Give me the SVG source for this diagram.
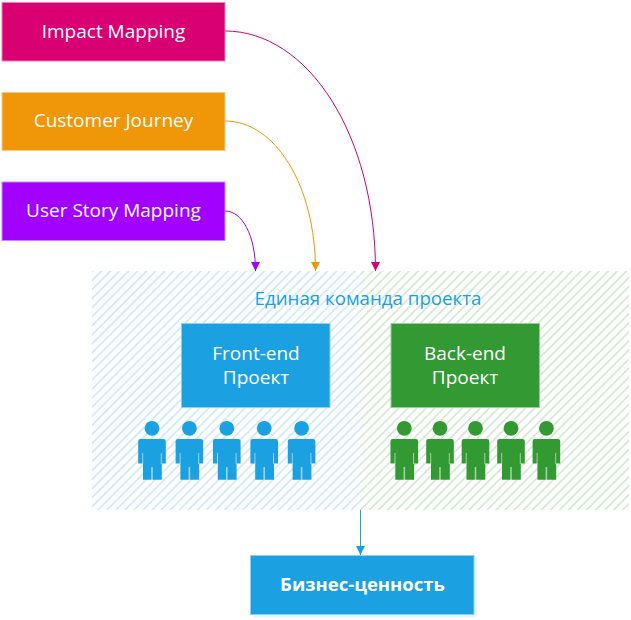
<svg xmlns="http://www.w3.org/2000/svg" width="631" height="620" viewBox="0 0 631 620">
  <style>
    text { font-family: "Open Sans", "Noto Sans", "Liberation Sans", sans-serif; text-anchor: middle; font-size: 19px; fill: #fff; }
    .box { stroke-width: 1; }
    .link { fill: none; stroke-width: 1; }
    .blue { fill: #1ba1e2; stroke: #8dd0f0; }
    .green { fill: #339933; stroke: #99cc99; }
    .magenta { fill: #d80073; stroke: #eb80b9; }
    .orange { fill: #f09609; stroke: #f7ca84; }
    .purple { fill: #a200ff; stroke: #d080ff; }
    .person-blue { fill: #1ba1e2; }
    .person-green { fill: #339933; }
    .gap { fill: none; stroke: #fff; stroke-opacity: 0.55; stroke-width: 1; }
    .gap-mid { fill: none; stroke: #fff; stroke-opacity: 0.55; stroke-width: 1.6; }
  </style>
  <defs>
    <pattern id="hatch-blue" width="6.4" height="6.4" patternUnits="userSpaceOnUse" patternTransform="rotate(45)">
      <line x1="1" y1="0" x2="1" y2="6.4" stroke="#1ba1e2" stroke-opacity="0.3" stroke-width="1.2"/>
    </pattern>
    <pattern id="hatch-green" width="6.4" height="6.4" patternUnits="userSpaceOnUse" patternTransform="rotate(45)">
      <line x1="1" y1="0" x2="1" y2="6.4" stroke="#339933" stroke-opacity="0.3" stroke-width="1.2"/>
    </pattern>
    <marker id="tip-magenta" markerWidth="10" markerHeight="10" refX="9" refY="5" orient="auto" markerUnits="userSpaceOnUse"><path d="M0 0.5L9 5L0 9.5Z" fill="#d80073"/></marker>
    <marker id="tip-orange" markerWidth="10" markerHeight="10" refX="9" refY="5" orient="auto" markerUnits="userSpaceOnUse"><path d="M0 0.5L9 5L0 9.5Z" fill="#f09609"/></marker>
    <marker id="tip-purple" markerWidth="10" markerHeight="10" refX="9" refY="5" orient="auto" markerUnits="userSpaceOnUse"><path d="M0 0.5L9 5L0 9.5Z" fill="#a200ff"/></marker>
    <marker id="tip-blue" markerWidth="10" markerHeight="10" refX="9" refY="5" orient="auto" markerUnits="userSpaceOnUse"><path d="M0 0.5L9 5L0 9.5Z" fill="#1ba1e2"/></marker>
    <!-- One figure, drawn around x = 0: head, torso with arms, pale slits between the limbs -->
    <g id="figure">
      <circle cx="0" cy="428.3" r="7.4"/>
      <path d="M-11.5 439H11.500Q13.800 439 13.800 441.300V463.500H9.800V479.700H-9V463.500H-13.800V441.300Q-13.800 439 -11.500 439Z"/>
      <path class="gap" d="M-9.300 453V464M9.300 453V464"/>
      <path class="gap-mid" d="M0 467V480"/>
    </g>
  </defs>

  <g id="team-area">
    <rect x="92" y="271" width="268" height="239" fill="url(#hatch-blue)"/>
    <rect x="360" y="271" width="269" height="239" fill="url(#hatch-green)"/>
    <text x="368" y="305" style="fill:#1ba1e2;font-size:18.7px">Единая команда проекта</text>
  </g>

  <g id="connectors">
    <path class="link" stroke="#d80073" d="M225 31C308 31 375.500 135 375.500 271" marker-end="url(#tip-magenta)"/>
    <path class="link" stroke="#f09609" d="M225 121C275 121 315.500 185 315.500 271" marker-end="url(#tip-orange)"/>
    <path class="link" stroke="#a200ff" d="M225 211C242 211 255.500 235 255.500 271" marker-end="url(#tip-purple)"/>
    <path class="link" stroke="#1ba1e2" d="M360.500 510V555" marker-end="url(#tip-blue)"/>
  </g>

  <g id="impact-mapping">
    <rect class="box magenta" x="2" y="2.500" width="223" height="58.500"/>
    <text x="113.500" y="38">Impact Mapping</text>
  </g>
  <g id="customer-journey">
    <rect class="box orange" x="2" y="92.500" width="223" height="58"/>
    <text x="113.500" y="127">Customer Journey</text>
  </g>
  <g id="user-story-mapping">
    <rect class="box purple" x="2" y="182" width="223" height="58.500"/>
    <text x="113.500" y="217">User Story Mapping</text>
  </g>

  <g id="front-end">
    <rect class="box blue" x="181.500" y="323.500" width="148.500" height="84"/>
    <text x="256" y="360">Front-end</text>
    <text x="256" y="384">Проект</text>
  </g>
  <g id="back-end">
    <rect class="box green" x="391" y="323.500" width="148.500" height="84"/>
    <text x="465" y="360">Back-end</text>
    <text x="465" y="384">Проект</text>
  </g>

  <g id="front-end-team" class="person-blue">
    <use href="#figure" x="152"/><use href="#figure" x="189.400"/><use href="#figure" x="226.800"/><use href="#figure" x="264.200"/><use href="#figure" x="301.600"/>
  </g>
  <g id="back-end-team" class="person-green">
    <use href="#figure" x="404.300"/><use href="#figure" x="440"/><use href="#figure" x="475.500"/><use href="#figure" x="511"/><use href="#figure" x="546.400"/>
  </g>

  <g id="business-value">
    <rect x="254" y="558.500" width="223" height="59" fill="#e8f6fc"/>
    <rect class="box blue" x="250.500" y="555.500" width="223.500" height="59"/>
    <text x="362.500" y="591" style="font-weight:700;font-size:18.500px">Бизнес-ценность</text>
  </g>
</svg>
